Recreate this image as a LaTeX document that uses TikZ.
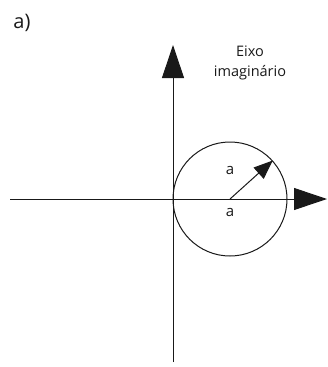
\documentclass[tikz,border=0pt]{standalone}
\usepackage{fontspec}
\setmainfont{Open Sans}
\usetikzlibrary{arrows.meta}
\tikzset{
  lbl/.style={font=\fontsize{15}{17}\selectfont, text=black!90, inner sep=0pt},
  axis/.style={-{Triangle[length=33pt, width=22pt]}, line width=1pt, color=black!90},
  radius/.style={-{Triangle[length=19pt, width=15pt]}, line width=1pt, color=black!90},
}
\begin{document}
\begin{tikzpicture}[x=1pt, y=-1pt]
  \useasboundingbox (0,0) rectangle (327,367);
  % axes
  \coordinate (xl) at (10,199);
  \coordinate (xr) at (327,199);
  \coordinate (yb) at (173,362);
  \coordinate (yt) at (173,45);
  \draw[axis] (xl) -- (xr);
  \draw[axis] (yb) -- (yt);
  % circle and radius
  \node[circle, draw=black!90, line width=1pt, minimum size=114pt, inner sep=0pt] (circ) at (230,199) {};
  \draw[radius] (circ.center) -- (circ.42);
  \node[lbl] (ra) at (230,170) {a};
  \node[lbl] (ca) at (230,212) {a};
  \node[lbl, align=center, font=\fontsize{14.5}{20}\selectfont] (eixo) at (250,63) {Eixo\\imaginário};
  \node[lbl, font=\fontsize{20}{22}\selectfont] (tag) at (22,23) {a)};
\end{tikzpicture}
\end{document}
